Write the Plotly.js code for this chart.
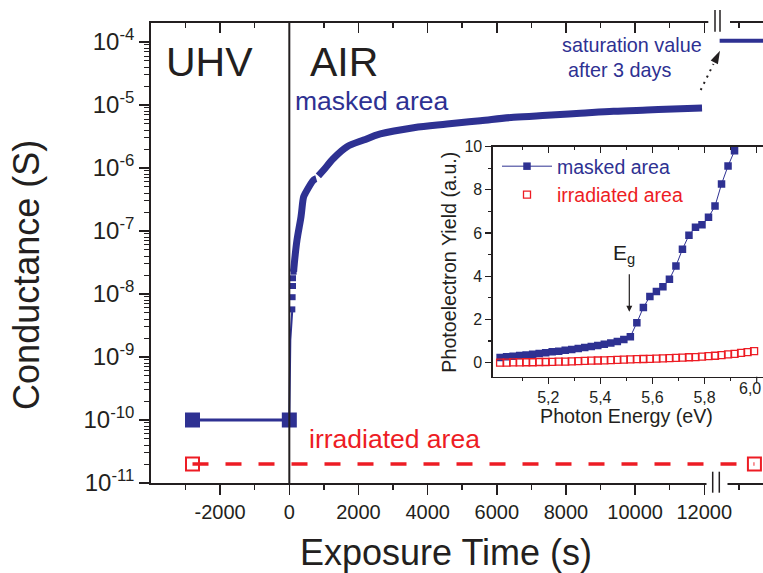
<!DOCTYPE html>
<html><head><meta charset="utf-8">
<script src="https://cdn.plot.ly/plotly-3.0.1.min.js"></script>
<style>html,body{margin:0;padding:0;background:#fff}#chart{width:763px;height:573px}</style>
</head><body><div id="chart"></div>
<script>
// ---------- main chart data ----------
const uhvTime = [-2800, 0];
const uhvMasked = [1e-10, 1e-10];
const riseTime = [0, 9, 29, 87];
const riseCond = [1e-10, 3e-10, 1.86e-9, 5.7e-9];
const stepTime = [87, 95, 107, 107, 124];
const stepCond = [5.7e-9, 8.9e-9, 1.34e-8, 1.78e-8, 2.26e-8];
const airTime = [124, 145, 222, 338, 414, 463, 703, 780, null, 840, 992, 1281, 1669, 2149, 2632, 3595, 4561, 5524, 6487, 7452, 8415, 9378, 10344, 11307, 11935];
const airCond = [2.26e-8, 3.07e-8, 7.2e-8, 1.69e-7, 3.5e-7, 3.98e-7, 6.46e-7, 6.8e-7, null, 7.5e-7, 9.29e-7, 1.43e-6, 2.18e-6, 2.78e-6, 3.47e-6, 4.37e-6, 4.99e-6, 5.64e-6, 6.38e-6, 6.87e-6, 7.38e-6, 7.94e-6, 8.33e-6, 8.73e-6, 8.96e-6];
const satTime = [12444, 13698];
const satCond = [1.05e-4, 1.05e-4];
const irrTime = [-2800, 13450];
const irrCond = [2e-11, 2e-11];
const xTickVals = [-2000, 0, 2000, 4000, 6000, 8000, 10000, 12000];
const xTickText = ['-2000', '0', '2000', '4000', '6000', '8000', '10000', '12000'];
const xMinorVals = [-3000, -1000, 1000, 3000, 5000, 7000, 9000, 11000, 13000];
const yTickExp = [-11, -10, -9, -8, -7, -6, -5, -4];

// ---------- inset data ----------
const peMaskedE = [5.015, 5.04, 5.065, 5.09, 5.115, 5.14, 5.165, 5.19, 5.215, 5.24, 5.265, 5.29, 5.315, 5.34, 5.365, 5.39, 5.415, 5.44, 5.465, 5.49, 5.515, 5.54, 5.565, 5.59, 5.615, 5.64, 5.665, 5.69, 5.715, 5.74, 5.765, 5.79, 5.815, 5.84, 5.865, 5.89, 5.915];
const peMaskedY = [0.24, 0.27, 0.30, 0.33, 0.36, 0.39, 0.42, 0.46, 0.50, 0.53, 0.57, 0.61, 0.65, 0.70, 0.75, 0.80, 0.85, 0.91, 0.98, 1.07, 1.20, 1.85, 2.56, 3.06, 3.29, 3.52, 3.86, 4.48, 5.25, 5.90, 6.27, 6.39, 6.73, 7.25, 8.27, 9.11, 9.81];
const peIrrE = [5.015, 5.04, 5.065, 5.09, 5.115, 5.14, 5.165, 5.19, 5.215, 5.24, 5.265, 5.29, 5.315, 5.34, 5.365, 5.39, 5.415, 5.44, 5.465, 5.49, 5.515, 5.54, 5.565, 5.59, 5.615, 5.64, 5.665, 5.69, 5.715, 5.74, 5.765, 5.79, 5.815, 5.84, 5.865, 5.89, 5.915, 5.94, 5.965, 5.99];
const peIrrY = [0.00, 0.00, 0.01, 0.01, 0.02, 0.02, 0.03, 0.03, 0.04, 0.05, 0.05, 0.06, 0.07, 0.08, 0.09, 0.10, 0.11, 0.12, 0.13, 0.14, 0.15, 0.16, 0.17, 0.18, 0.19, 0.20, 0.21, 0.22, 0.23, 0.25, 0.26, 0.28, 0.30, 0.32, 0.35, 0.38, 0.41, 0.45, 0.49, 0.53];
const insetXTickVals = [5.2, 5.4, 5.6, 5.8];
const insetXTickText = ['5,2', '5,4', '5,6', '5,8'];
const insetXEdgeLabel = '6,0';
const insetYTickVals = [0, 2, 4, 6, 8, 10];

// ---------- styling ----------
const BLUE = '#2e3192', RED = '#ed1c24', INK = '#231f20';
const FONT = 'Liberation Sans, Arial, sans-serif';
const W = 763, H = 573, L = 151, R = 0, T = 23, B = 90;
const PW = W - L - R, PH = H - T - B;
const px = x => (x - L) / PW;
const py = y => (H - B - y) / PH;

const yTickVals = yTickExp.map(e => Math.pow(10, e));
const yTickText = yTickExp.map(e => '10<sup>' + String(e) + '</sup>');
const yMinor = [];
for (let e = -11; e <= -4; e++) for (let k = 2; k <= 9; k++) { const v = k * Math.pow(10, e); if (Math.log10(v) < -3.70) yMinor.push(v); }

const traces = [
  {x: uhvTime, y: uhvMasked, mode: 'lines+markers', line: {color: BLUE, width: 3}, marker: {symbol: 'square', size: 15, color: BLUE}, showlegend: false, cliponaxis: false},
  {x: riseTime, y: riseCond, mode: 'lines', line: {color: BLUE, width: 2}, showlegend: false},
  {x: stepTime, y: stepCond, mode: 'markers', marker: {symbol: 'square', size: 6, color: BLUE}, showlegend: false},
  {x: airTime, y: airCond, mode: 'lines', line: {color: BLUE, width: 7, shape: 'spline', smoothing: 1}, connectgaps: false, showlegend: false},
  {x: satTime, y: satCond, mode: 'lines', line: {color: BLUE, width: 4}, showlegend: false},
  {x: irrTime, y: irrCond, mode: 'lines+markers', line: {color: RED, width: 3.5, dash: '16px,17px'}, marker: {symbol: 'square-open', size: 13, color: RED, line: {width: 2, color: RED}}, showlegend: false},
  {x: [], y: [], xaxis: 'x2', yaxis: 'y', showlegend: false},
  {x: peMaskedE, y: peMaskedY, xaxis: 'x3', yaxis: 'y3', mode: 'lines+markers', name: '<span style="color:' + BLUE + '">masked area</span>', line: {color: BLUE, width: 1}, marker: {symbol: 'square', size: 7.5, color: BLUE}},
  {x: peIrrE, y: peIrrY, xaxis: 'x3', yaxis: 'y3', mode: 'markers', name: '<span style="color:' + RED + '">irradiated area</span>', marker: {symbol: 'square-open', size: 7, color: RED, line: {width: 1.3, color: RED}}},
  {x: [], y: [], xaxis: 'x4', yaxis: 'y3', showlegend: false}
];

const axBase = {showgrid: false, zeroline: false, showline: true, linecolor: INK, tickcolor: INK};
const xRange = [-4000, 13698];
const inXRange = [4.9866, 6.0242];
const inDomX = [px(492.7), 1];
const inDomY = [py(376.7), py(146.7)];
const inTop = [5.2, 5.4, 5.6, 5.8, 6.0];

const A = (x, y, text, size, color, extra) => Object.assign({xref: 'paper', yref: 'paper', x: px(x), y: py(y), text: text, showarrow: false, xanchor: 'center', yanchor: 'middle', font: {family: FONT, size: size, color: color}}, extra || {});

const annotations = [
  A(209, 62.3, 'UHV', 41, INK),
  A(344, 62.3, 'AIR', 41, INK),
  A(371.7, 100.7, 'masked area', 26.5, BLUE),
  A(394, 439, 'irradiated area', 26.5, RED),
  A(631.7, 44.8, 'saturation value', 19.8, BLUE),
  A(619, 69.8, 'after 3 days', 19.8, BLUE),
  A(26.4, 274.5, 'Conductance (S)', 36, INK, {textangle: -90}),
  A(446, 552.5, 'Exposure Time (s)', 36, INK),
  A(449, 262.7, 'Photoelectron Yield (a.u.)', 19.7, INK, {textangle: -90}),
  A(626.7, 415.8, 'Photon Energy (eV)', 19.7, INK),
  A(762.5, 388.5, insetXEdgeLabel, 16, INK, {xanchor: 'right'}),
  A(624, 254, 'E<sub>g</sub>', 21, INK),
  {xref: 'x3', yref: 'y3', x: 5.511, y: 2.36, ax: 0, ay: -39, axref: 'pixel', ayref: 'pixel', text: '', showarrow: true, arrowhead: 2, arrowsize: 1, arrowwidth: 1.2, arrowcolor: INK, standoff: 0}
];

const P = (x, y) => px(x) + ',' + py(y);
const shapes = [
  {type: 'line', xref: 'x', yref: 'paper', x0: 0, x1: 0, y0: 0, y1: 1, line: {color: INK, width: 2}, layer: 'above'},
  {type: 'line', xref: 'x3', yref: 'paper', x0: 6.0, x1: 6.0, y0: py(376.7), y1: py(383), line: {color: INK, width: 1.2}, layer: 'above'},
  {type: 'rect', xref: 'paper', yref: 'paper', x0: px(706.5), x1: px(727.5), y0: py(496), y1: py(476), fillcolor: '#fff', line: {width: 0}, layer: 'above'},
  {type: 'line', xref: 'paper', yref: 'paper', x0: px(712.7), x1: px(712.7), y0: py(492.7), y1: py(471.7), line: {color: INK, width: 1.5}, layer: 'above'},
  {type: 'line', xref: 'paper', yref: 'paper', x0: px(719.3), x1: px(719.3), y0: py(492.7), y1: py(471.7), line: {color: INK, width: 1.5}, layer: 'above'},
  {type: 'rect', xref: 'paper', yref: 'paper', x0: px(708.3), x1: px(730), y0: py(35), y1: py(15), fillcolor: '#fff', line: {width: 0}, layer: 'above'},
  {type: 'line', xref: 'paper', yref: 'paper', x0: px(715), x1: px(715), y0: py(31.7), y1: py(10), line: {color: INK, width: 1.5}, layer: 'above'},
  {type: 'line', xref: 'paper', yref: 'paper', x0: px(720), x1: px(720), y0: py(31.7), y1: py(10), line: {color: INK, width: 1.5}, layer: 'above'},
  {type: 'line', xref: 'paper', yref: 'paper', x0: px(700.7), y0: py(90), x1: px(713.5), y1: py(64), line: {color: INK, width: 2, dash: '2px,5px'}, layer: 'above'},
  {type: 'path', xref: 'paper', yref: 'paper', path: 'M' + P(720, 50.7) + 'L' + P(710.7, 60.6) + 'L' + P(717.9, 64.2) + 'Z', fillcolor: INK, line: {width: 0}, layer: 'above'}
];

const layout = {
  width: W, height: H, autosize: false,
  margin: {l: L, r: R, t: T, b: B, pad: 0},
  paper_bgcolor: '#fff', plot_bgcolor: 'rgba(0,0,0,0)',
  font: {family: FONT, color: INK},
  xaxis: Object.assign({}, axBase, {range: xRange, domain: [0, 1], anchor: 'y', linewidth: 1.8, tickmode: 'array', tickvals: xTickVals, ticktext: xTickText, ticks: 'outside', ticklen: 10, tickwidth: 1.5, tickfont: {size: 20, family: FONT, color: INK}, minor: {tickvals: xMinorVals, ticks: 'outside', ticklen: 5, tickwidth: 1.5, tickcolor: INK}}),
  xaxis2: Object.assign({}, axBase, {range: xRange, overlaying: 'x', side: 'top', anchor: 'y', linewidth: 1.8, tickmode: 'array', tickvals: xTickVals, showticklabels: false, ticks: 'inside', ticklen: 10, tickwidth: 1.5, minor: {tickvals: xMinorVals, ticks: 'inside', ticklen: 5, tickwidth: 1.5, tickcolor: INK}}),
  yaxis: Object.assign({}, axBase, {type: 'log', range: [-11, -3.698], domain: [0, 1], anchor: 'x', linewidth: 1.8, tickmode: 'array', tickvals: yTickVals, ticktext: yTickText, ticks: 'outside', ticklen: 10, tickwidth: 1.5, tickfont: {size: 24, family: FONT, color: INK}, minor: {tickvals: yMinor, ticks: 'outside', ticklen: 5, tickwidth: 1, tickcolor: INK}}),
  xaxis3: Object.assign({}, axBase, {range: inXRange, domain: inDomX, anchor: 'y3', linewidth: 1.3, tickmode: 'array', tickvals: insetXTickVals, ticktext: insetXTickText, ticks: 'outside', ticklen: 6, tickwidth: 1.2, tickfont: {size: 16, family: FONT, color: INK}, minor: {tickvals: [5.1, 5.3, 5.5, 5.7, 5.9], ticks: 'outside', ticklen: 3, tickwidth: 1.2, tickcolor: INK}}),
  xaxis4: Object.assign({}, axBase, {range: inXRange, overlaying: 'x3', side: 'top', anchor: 'y3', linewidth: 1.3, tickmode: 'array', tickvals: inTop, showticklabels: false, ticks: 'inside', ticklen: 6, tickwidth: 1.2, minor: {tickvals: [5.1, 5.3, 5.5, 5.7, 5.9], ticks: 'inside', ticklen: 3, tickwidth: 1.2, tickcolor: INK}}),
  yaxis3: Object.assign({}, axBase, {range: [-0.65, 10], domain: inDomY, anchor: 'x3', linewidth: 1.3, tickmode: 'array', tickvals: insetYTickVals, ticks: 'outside', ticklen: 6, tickwidth: 1.2, tickfont: {size: 16, family: FONT, color: INK}, minor: {tickvals: [1, 3, 5, 7, 9], ticks: 'outside', ticklen: 3, tickwidth: 1.2, tickcolor: INK}}),
  showlegend: true,
  legend: {x: px(497), y: py(147), xanchor: 'left', yanchor: 'top', bgcolor: 'rgba(0,0,0,0)', borderwidth: 0, font: {size: 19.5, family: FONT, color: INK}, itemwidth: 50, tracegroupgap: 0, traceorder: 'normal'},
  annotations: annotations,
  shapes: shapes
};

Plotly.newPlot('chart', traces, layout, {staticPlot: true, displayModeBar: false});
</script>
</body></html>
